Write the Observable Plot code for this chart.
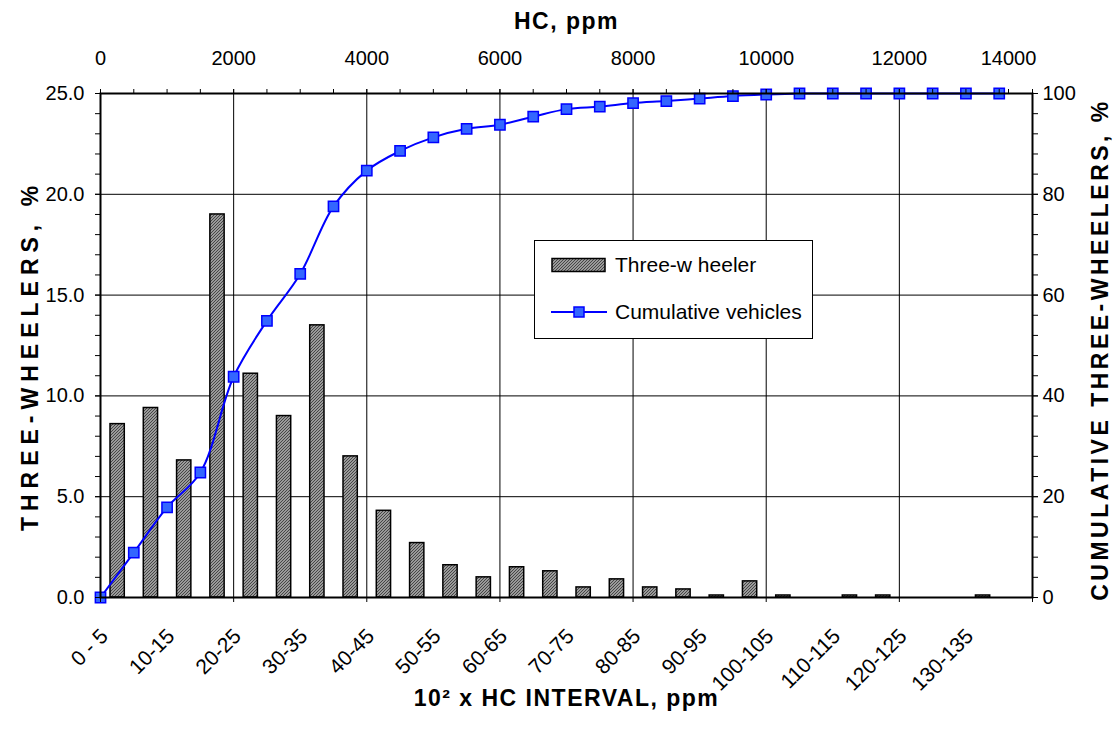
<!DOCTYPE html>
<html><head><meta charset="utf-8">
<script src="https://cdn.jsdelivr.net/npm/d3@7"></script>
<script src="https://cdn.jsdelivr.net/npm/@observablehq/plot@0.6"></script>
<style>
body{margin:0;background:#fff;}
#wrap{position:relative;width:1117px;height:740px;font-family:Arial,"Liberation Sans",sans-serif;color:#000;}
#legend{position:absolute;left:534px;top:240px;width:279px;height:99px;border:1.5px solid #000;background:#fff;box-sizing:border-box;}
#legend .item{position:absolute;left:0;height:30px;display:flex;align-items:center;font-size:21px;white-space:nowrap;}
#legend svg{display:block;margin-left:16px;margin-right:8px;}
</style></head>
<body><div id="wrap"></div>
<script>
// ---- data ----
const categories = ["0 - 5","5-10","10-15","15-20","20-25","25-30","30-35","35-40","40-45","45-50","50-55","55-60","60-65","65-70","70-75","75-80","80-85","85-90","90-95","95-100","100-105","105-110","110-115","115-120","120-125","125-130","130-135","135-140"];
const threeWheeler = [8.6, 9.4, 6.8, 19.0, 11.1, 9.0, 13.5, 7.0, 4.3, 2.7, 1.6, 1.0, 1.5, 1.3, 0.5, 0.9, 0.5, 0.4, 0.1, 0.8, 0.1, 0, 0.1, 0.1, 0, 0, 0.1, 0];
const cumulative = [0, 8.9, 17.9, 24.8, 43.8, 54.9, 64.2, 77.6, 84.7, 88.6, 91.3, 93.0, 93.8, 95.4, 96.9, 97.4, 98.1, 98.5, 99.0, 99.5, 99.8, 100, 100, 100, 100, 100, 100, 100];
const hcTicks = [0, 2000, 4000, 6000, 8000, 10000, 12000, 14000];
const leftTicks = [0, 5, 10, 15, 20, 25];
const rightTicks = [0, 20, 40, 60, 80, 100];
const seriesNames = ["Three-w heeler", "Cumulative vehicles"];
const titles = {top: "HC, ppm", left: "THREE-WHEELERS, %", right: "CUMULATIVE THREE-WHEELERS, %", bottom: "10\u00B2 x HC INTERVAL, ppm"};

// ---- table built from the arrays ----
const rows = categories.map((c, i) => {
  const [a, b] = c.split("-").map(s => +s.trim());
  return {cat: c, lo: a * 100, hi: b * 100, mid: (a + b) * 50, pct: threeWheeler[i], cum: cumulative[i]};
});
const labelRows = rows.filter((d, i) => i % 2 === 0);
const rightScale = 100 / 25;

const font = "Arial, 'Liberation Sans', sans-serif";
const chart = Plot.plot({
  width: 1117, height: 740,
  marginLeft: 100, marginRight: 85, marginTop: 93, marginBottom: 143,
  style: {fontFamily: font, fontSize: "20px", color: "#000", background: "#fff", overflow: "visible"},
  x: {type: "linear", domain: [0, 14000], axis: null},
  y: {domain: [0, 25], axis: null},
  marks: [
    Plot.gridX({ticks: hcTicks.slice(1, -1), stroke: "#000", strokeOpacity: 1, strokeWidth: 1}),
    Plot.gridY({ticks: leftTicks.slice(1, -1), stroke: "#000", strokeOpacity: 1, strokeWidth: 1}),
    Plot.rectY(rows.filter(d => d.pct > 0), {x1: "lo", x2: "hi", y: "pct", insetLeft: 10, insetRight: 9, fill: "url(#hatch)", stroke: "#000", strokeWidth: 1.5}),
    Plot.line(rows, {x: "lo", y: d => d.cum / rightScale, curve: "catmull-rom", stroke: "#0000ff", strokeWidth: 2}),
    Plot.dot(rows, {x: "lo", y: d => d.cum / rightScale, symbol: "square", r: 5.8, fill: "#3366ff", stroke: "#0000ff", strokeWidth: 1.5}),
    Plot.frame({stroke: "#000", strokeWidth: 2}),
    // top axis
    Plot.axisX({anchor: "top", ticks: d3.range(0, 14001, 500), tickSize: 5, tickFormat: () => "", label: null}),
    Plot.axisX({anchor: "top", ticks: hcTicks.slice(0, -1), tickSize: 5, tickPadding: 24, tickFormat: d => String(d), label: null}),
    Plot.axisX({anchor: "top", ticks: hcTicks.slice(-1), tickSize: 5, tickPadding: 24, dx: -24, tickFormat: d => String(d), label: null}),
    // bottom axis: ticks + category labels
    Plot.axisX({anchor: "bottom", ticks: hcTicks, tickSize: 5, tickFormat: () => "", label: null}),
    Plot.text(labelRows, {x: "mid", text: "cat", frameAnchor: "bottom", rotate: -45, textAnchor: "end", dx: -8, dy: 40, fontSize: 21}),
    // left axis
    Plot.axisY({anchor: "left", ticks: d3.range(0, 26, 1), tickSize: 5, tickFormat: () => "", label: null}),
    Plot.axisY({anchor: "left", ticks: leftTicks, tickSize: 5, tickPadding: 11, tickFormat: d => d.toFixed(1), label: null}),
    // right axis
    Plot.axisY({anchor: "right", ticks: d3.range(0, 26, 1), tickSize: 5, tickFormat: () => "", label: null}),
    Plot.axisY({anchor: "right", ticks: rightTicks.map(d => d / rightScale), tickSize: 5, tickPadding: 5, tickFormat: d => String(Math.round(d * rightScale)), label: null}),
    // titles
    Plot.text([titles.top], {frameAnchor: "top", textAnchor: "middle", dy: -81, fontWeight: "bold", fontSize: 23}),
    Plot.text([titles.bottom], {frameAnchor: "bottom", textAnchor: "middle", dy: 108, fontWeight: "bold", fontSize: 23}),
    Plot.text([titles.left], {frameAnchor: "left", textAnchor: "middle", dx: -70, dy: 10, rotate: -90, fontWeight: "bold", fontSize: 23}),
    Plot.text([titles.right], {frameAnchor: "right", textAnchor: "middle", dx: 68, dy: 4, rotate: -90, fontWeight: "bold", fontSize: 23})
  ]
});

// hatch pattern for the bars
const ns = "http://www.w3.org/2000/svg";
const defs = document.createElementNS(ns, "defs");
defs.innerHTML = '<pattern id="hatch" patternUnits="userSpaceOnUse" width="3" height="3">' +
  '<rect width="3" height="3" fill="#9a9a9a"/><path d="M0,3L3,0M-1,1L1,-1M2,4L4,2" stroke="#3c3c3c" stroke-width="0.9"/></pattern>';
chart.insertBefore(defs, chart.firstChild);

// letter spacing of axis titles (as in the reference)
const spacing = {[titles.top]: 1.5, [titles.bottom]: 1.5, [titles.left]: 6, [titles.right]: 3.5};
chart.querySelectorAll("text").forEach(t => {
  const s = spacing[t.textContent];
  if (s !== undefined) t.setAttribute("letter-spacing", s);
});

const wrap = document.getElementById("wrap");
wrap.appendChild(chart);

// legend inside the plot area
const legend = document.createElement("div");
legend.id = "legend";
legend.innerHTML =
  '<div class="item" style="top:9px"><svg width="56" height="16"><rect x="1" y="1.5" width="53" height="13" fill="url(#hatch)" stroke="#000" stroke-width="1.5"/></svg><span>' + seriesNames[0] + '</span></div>' +
  '<div class="item" style="top:56px"><svg width="56" height="16"><line x1="0" y1="8" x2="56" y2="8" stroke="#0000ff" stroke-width="2"/><rect x="23" y="3" width="10" height="10" fill="#3366ff" stroke="#0000ff" stroke-width="1.5"/></svg><span>' + seriesNames[1] + '</span></div>';
wrap.appendChild(legend);
</script>
</body></html>
